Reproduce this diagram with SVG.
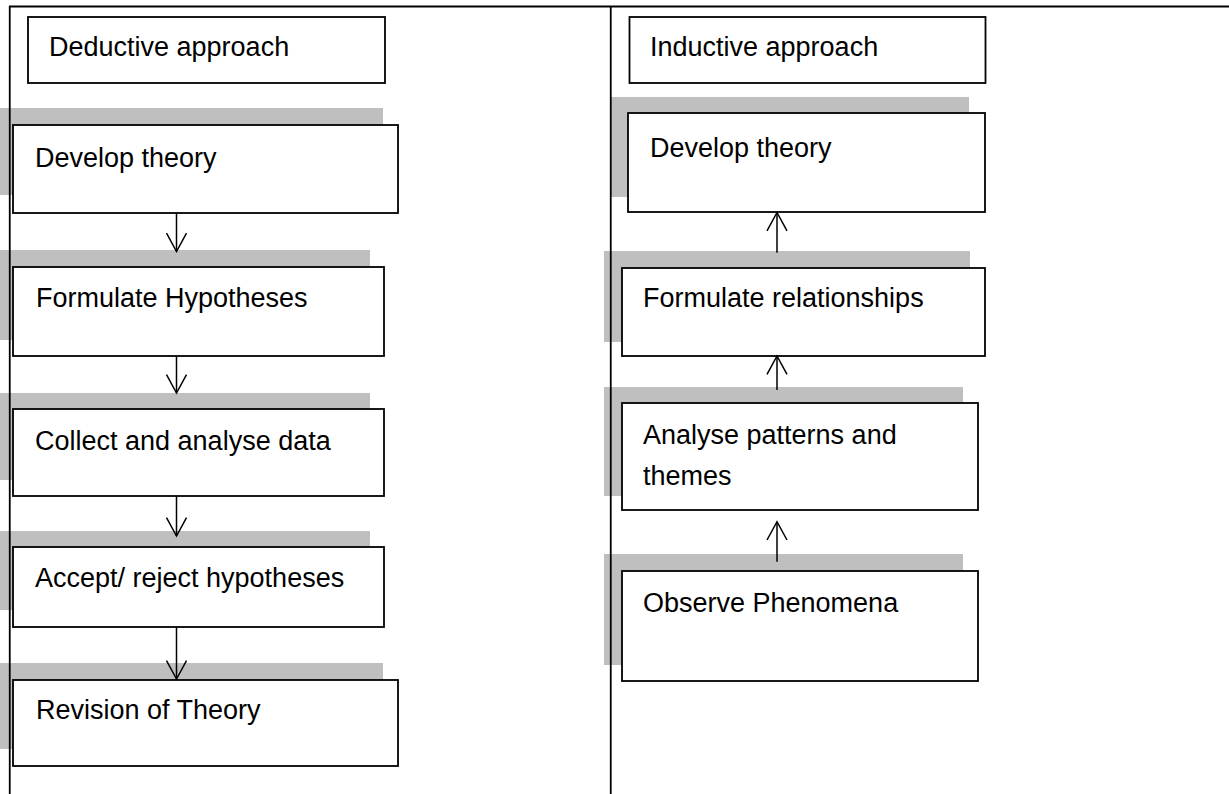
<svg xmlns="http://www.w3.org/2000/svg" width="1229" height="794" viewBox="0 0 1229 794">
  <style>
    .shadow { fill: #bfbfbf; }
    .box { fill: #ffffff; stroke: #000000; stroke-width: 1.8; }
    .label { font-family: "Liberation Sans", Arial, sans-serif; font-size: 27px; fill: #000000; }
    .frame { stroke: #000000; stroke-width: 1.8; fill: none; }
    .conn { stroke: #000000; stroke-width: 1.5; fill: none; }
  </style>
  <defs>
    <marker id="arrow" viewBox="0 0 20 20" refX="18.3" refY="10" markerWidth="20" markerHeight="20" markerUnits="userSpaceOnUse" orient="auto" overflow="visible">
      <path d="M0,0 L18.3,10 L0,20" fill="none" stroke="#000000" stroke-width="1.5"/>
    </marker>
  </defs>

  <rect width="1229" height="794" fill="#ffffff"/>

  <!-- Deductive column -->
  <g id="deductive-title">
    <rect class="box" x="28" y="17" width="357" height="66"/>
    <text class="label" x="49" y="56">Deductive approach</text>
  </g>
  <g id="ded-develop-theory">
    <rect class="shadow" x="0" y="108" width="383" height="87"/>
    <rect class="box" x="13" y="125" width="385" height="88"/>
    <text class="label" x="35" y="167">Develop theory</text>
  </g>
  <g id="ded-formulate-hypotheses">
    <rect class="shadow" x="0" y="250" width="370" height="90"/>
    <rect class="box" x="13" y="267" width="371" height="89"/>
    <text class="label" x="36" y="307">Formulate Hypotheses</text>
  </g>
  <g id="ded-collect-data">
    <rect class="shadow" x="0" y="393" width="370" height="87"/>
    <rect class="box" x="13" y="409" width="371" height="87"/>
    <text class="label" x="35" y="450">Collect and analyse data</text>
  </g>
  <g id="ded-accept-reject">
    <rect class="shadow" x="0" y="531" width="370" height="79"/>
    <rect class="box" x="13" y="547" width="371" height="80"/>
    <text class="label" x="35" y="587">Accept/ reject hypotheses</text>
  </g>
  <g id="ded-revision">
    <rect class="shadow" x="0" y="663" width="383" height="86"/>
    <rect class="box" x="13" y="680" width="385" height="86"/>
    <text class="label" x="36" y="719">Revision of Theory</text>
  </g>

  <!-- Inductive column -->
  <g id="inductive-title">
    <rect class="box" x="629.5" y="17" width="356" height="66"/>
    <text class="label" x="650" y="56">Inductive approach</text>
  </g>
  <g id="ind-develop-theory">
    <rect class="shadow" x="611" y="97" width="358" height="100"/>
    <rect class="box" x="628" y="113" width="357" height="99"/>
    <text class="label" x="650" y="157">Develop theory</text>
  </g>
  <g id="ind-formulate-relationships">
    <rect class="shadow" x="604" y="251" width="366" height="91"/>
    <rect class="box" x="622" y="268" width="363" height="88"/>
    <text class="label" x="643" y="307">Formulate relationships</text>
  </g>
  <g id="ind-analyse-patterns">
    <rect class="shadow" x="604" y="387" width="359" height="109"/>
    <rect class="box" x="622" y="403" width="356" height="107"/>
    <text class="label" x="643" y="444">Analyse patterns and</text>
    <text class="label" x="643" y="485">themes</text>
  </g>
  <g id="ind-observe">
    <rect class="shadow" x="604" y="554" width="359" height="111"/>
    <rect class="box" x="622" y="571" width="356" height="110"/>
    <text class="label" x="643" y="612">Observe Phenomena</text>
  </g>

  <!-- table rules -->
  <g id="frame">
    <line class="frame" x1="9" y1="6.5" x2="1229" y2="6.5"/>
    <line class="frame" x1="9.75" y1="6" x2="9.75" y2="794"/>
    <line class="frame" x1="610.75" y1="6" x2="610.75" y2="794"/>
  </g>

  <!-- connectors -->
  <g id="connectors">
    <line class="conn" x1="176.5" y1="213" x2="176.5" y2="251.5" marker-end="url(#arrow)"/>
    <line class="conn" x1="176.5" y1="356" x2="176.5" y2="393" marker-end="url(#arrow)"/>
    <line class="conn" x1="176.5" y1="496" x2="176.5" y2="536" marker-end="url(#arrow)"/>
    <line class="conn" x1="176.5" y1="627" x2="176.5" y2="679" marker-end="url(#arrow)"/>
    <line class="conn" x1="777" y1="252.7" x2="777" y2="212.5" marker-end="url(#arrow)"/>
    <line class="conn" x1="777" y1="390" x2="777" y2="356" marker-end="url(#arrow)"/>
    <line class="conn" x1="777" y1="561.7" x2="777" y2="521.7" marker-end="url(#arrow)"/>
  </g>
</svg>
